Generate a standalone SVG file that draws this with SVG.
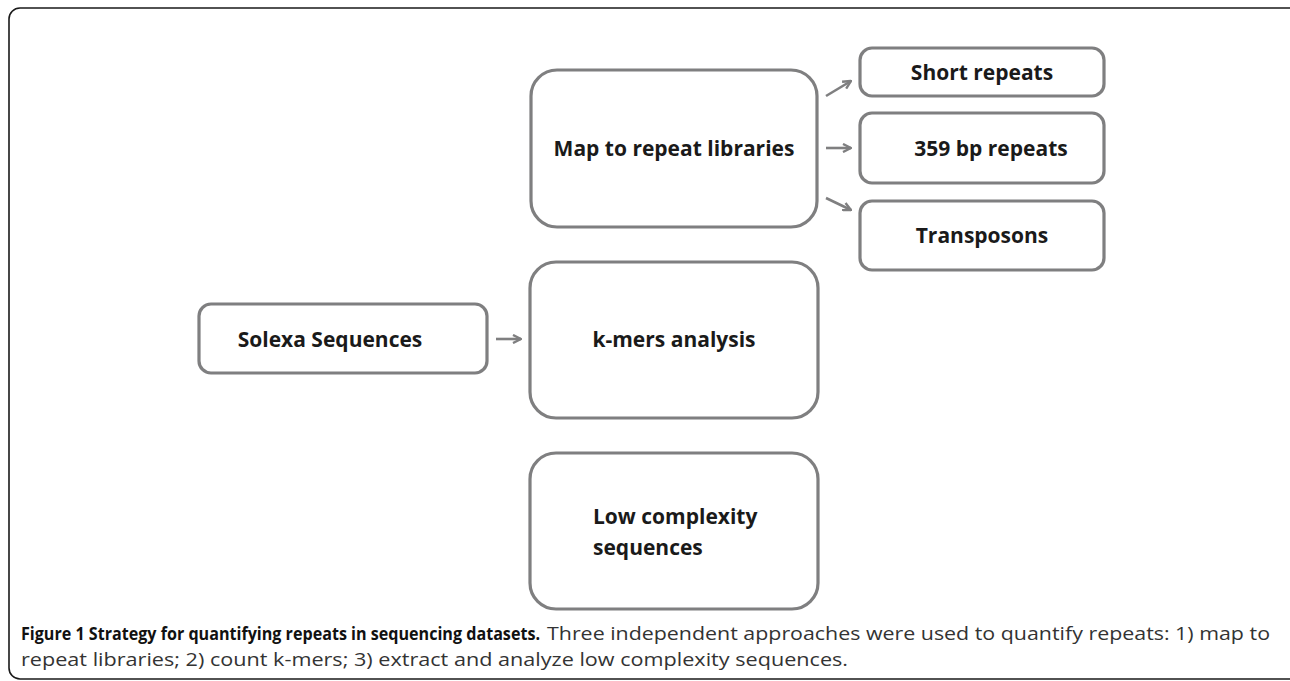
<svg xmlns="http://www.w3.org/2000/svg" width="1290" height="681" viewBox="0 0 1290 681">
<style>
.box{fill:#fff;stroke:#7f7f80;stroke-width:3.2}
.lbl{font-family:"Open Sans","Liberation Sans",sans-serif;font-weight:700;font-size:21px;fill:#1a1a1a}
.cap{font-family:"Open Sans","Liberation Sans",sans-serif;font-size:18px;fill:#333}
.capb{font-weight:700;fill:#111}
.conn{stroke:#7f7f80;stroke-width:2.6;fill:none}
</style>
<defs>
<marker id="ah" viewBox="0 0 10 10" refX="9" refY="5" markerWidth="10" markerHeight="10" markerUnits="userSpaceOnUse" orient="auto">
<path d="M1,1 L9,5 L1,9" fill="none" stroke="#7f7f80" stroke-width="2.4"/>
</marker>
</defs>
<rect x="9" y="8" width="1300" height="671" rx="11" fill="none" stroke="#1a1a1a" stroke-width="1.6"/>
<g id="connectors">
<line class="conn" x1="826" y1="96" x2="851" y2="81" marker-end="url(#ah)"/>
<line class="conn" x1="826" y1="148" x2="851" y2="148" marker-end="url(#ah)"/>
<line class="conn" x1="826" y1="198" x2="851" y2="210" marker-end="url(#ah)"/>
<line class="conn" x1="496" y1="339" x2="521" y2="339" marker-end="url(#ah)"/>
</g>
<g id="map"><rect class="box" x="531" y="70" width="286" height="157" rx="26"/><text class="lbl" x="674" y="156" text-anchor="middle">Map to repeat libraries</text></g>
<g id="short"><rect class="box" x="860" y="48" width="244" height="48" rx="12"/><text class="lbl" x="982" y="80" text-anchor="middle">Short repeats</text></g>
<g id="bp359"><rect class="box" x="860" y="113" width="244" height="70" rx="12"/><text class="lbl" x="991" y="156" text-anchor="middle">359 bp repeats</text></g>
<g id="transposons"><rect class="box" x="860" y="201" width="244" height="69" rx="12"/><text class="lbl" x="982" y="243" text-anchor="middle">Transposons</text></g>
<g id="solexa"><rect class="box" x="199" y="304" width="288" height="69" rx="12"/><text class="lbl" x="330" y="347" text-anchor="middle">Solexa Sequences</text></g>
<g id="kmers"><rect class="box" x="530" y="262" width="288" height="156" rx="26"/><text class="lbl" x="674" y="347" text-anchor="middle">k-mers analysis</text></g>
<g id="lowcomplexity"><rect class="box" x="530" y="453" width="288" height="156" rx="26"/><text class="lbl" x="593" y="524">Low complexity</text><text class="lbl" x="593" y="555">sequences</text></g>
<g id="caption">
<text class="cap capb" x="21" y="640" textLength="519" lengthAdjust="spacingAndGlyphs">Figure 1 Strategy for quantifying repeats in sequencing datasets.</text>
<text class="cap" x="547" y="640" textLength="723" lengthAdjust="spacingAndGlyphs">Three independent approaches were used to quantify repeats: 1) map to</text>
<text class="cap" x="21" y="666" textLength="827" lengthAdjust="spacingAndGlyphs">repeat libraries; 2) count k-mers; 3) extract and analyze low complexity sequences.</text>
</g>
</svg>
